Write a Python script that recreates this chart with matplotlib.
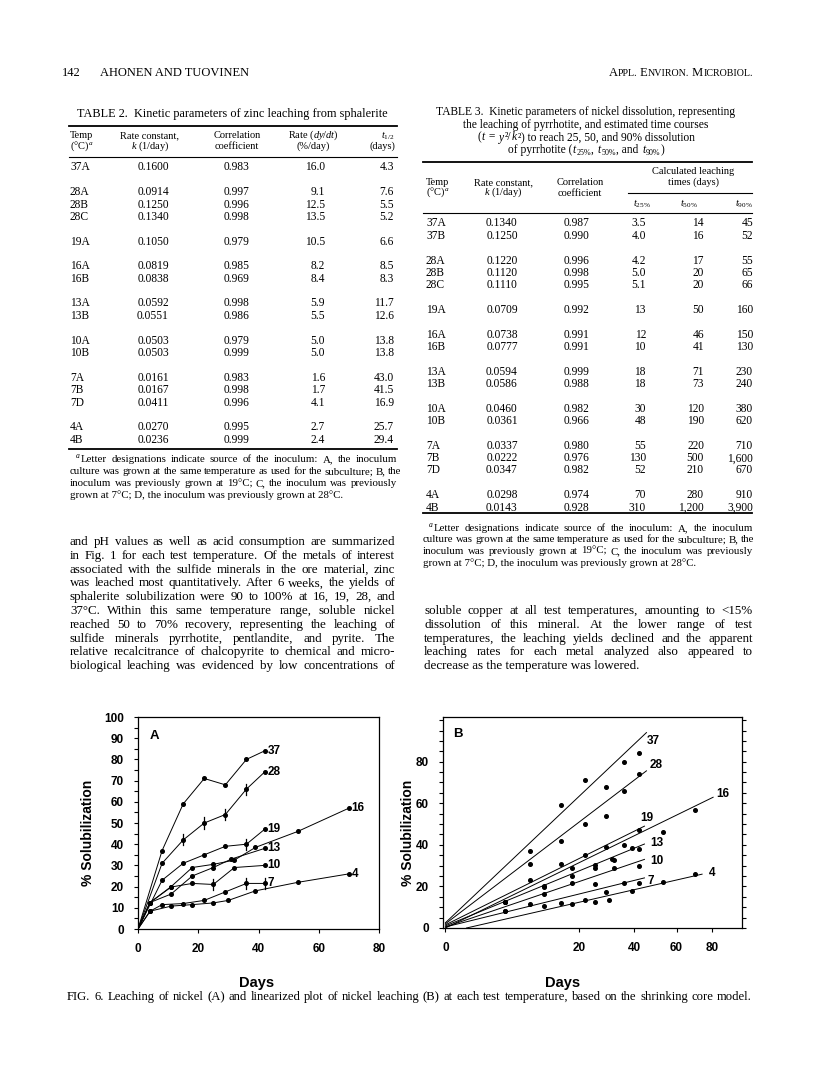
import itertools
import matplotlib
matplotlib.use('Agg')
import matplotlib.pyplot as plt
import numpy as np

# ---- Table 2: zinc leaching from sphalerite ----
t2_temp = ['37A', '28A', '28B', '28C', '19A', '16A', '16B', '13A', '13B',
           '10A', '10B', '7A', '7B', '7D', '4A', '4B']
t2_k = ['0.1600', '0.0914', '0.1250', '0.1340', '0.1050', '0.0819', '0.0838', '0.0592',
        '0.0551', '0.0503', '0.0503', '0.0161', '0.0167', '0.0411', '0.0270', '0.0236']
t2_r = ['0.983', '0.997', '0.996', '0.998', '0.979', '0.985', '0.969', '0.998',
        '0.986', '0.979', '0.999', '0.983', '0.998', '0.996', '0.995', '0.999']
t2_rate = ['16.0', '9.1', '12.5', '13.5', '10.5', '8.2', '8.4', '5.9',
           '5.5', '5.0', '5.0', '1.6', '1.7', '4.1', '2.7', '2.4']
t2_half = ['4.3', '7.6', '5.5', '5.2', '6.6', '8.5', '8.3', '11.7',
           '12.6', '13.8', '13.8', '43.0', '41.5', '16.9', '25.7', '29.4']

# ---- Table 3: nickel dissolution ----
t3_temp = ['37A', '37B', '28A', '28B', '28C', '19A', '16A', '16B', '13A', '13B',
           '10A', '10B', '7A', '7B', '7D', '4A', '4B']
t3_k = ['0.1340', '0.1250', '0.1220', '0.1120', '0.1110', '0.0709', '0.0738', '0.0777',
        '0.0594', '0.0586', '0.0460', '0.0361', '0.0337', '0.0222', '0.0347', '0.0298', '0.0143']
t3_r = ['0.987', '0.990', '0.996', '0.998', '0.995', '0.992', '0.991', '0.991', '0.999',
        '0.988', '0.982', '0.966', '0.980', '0.976', '0.982', '0.974', '0.928']
t3_t25 = ['3.5', '4.0', '4.2', '5.0', '5.1', '13', '12', '10', '18', '18',
          '30', '48', '55', '130', '52', '70', '310']
t3_t50 = ['14', '16', '17', '20', '20', '50', '46', '41', '71', '73',
          '120', '190', '220', '500', '210', '280', '1,200']
t3_t90 = ['45', '52', '55', '65', '66', '160', '150', '130', '230', '240',
          '380', '620', '710', '1,600', '670', '910', '3,900']

# ---- Fig. 6 data (% solubilization of nickel vs days) ----
d37 = [0, 8, 15, 22, 29, 36, 42]
v37 = [0, 37, 59, 71, 68, 80, 84]
d28 = [0, 8, 15, 22, 29, 36, 42]
v28 = [0, 31, 42, 50, 54, 66, 74]
d19 = [0, 8, 15, 22, 29, 36, 42]
v19 = [0, 23, 31, 35, 39, 40, 47]
d16 = [0, 4, 11, 18, 25, 32, 39, 53, 70]
v16 = [0, 12.5, 20, 29, 30.5, 32.5, 38.5, 46, 57]
d13 = [0, 4, 11, 18, 25, 31, 42]
v13 = [0, 12.5, 16.5, 25, 29, 33, 38]
d10 = [0, 4, 11, 18, 25, 32, 42]
v10 = [0, 12.5, 19.8, 21.5, 21, 29, 30]
d7 = [0, 4, 8, 15, 22, 29, 36, 42]
v7 = [0, 8.4, 11.5, 12, 13.5, 17.5, 21.5, 21.5]
d4 = [0, 4, 11, 18, 25, 30, 39, 53, 70]
v4 = [0, 8.4, 10.8, 11.5, 12.3, 13.5, 18, 22, 26]
labels = ['37', '28', '19', '16', '13', '10', '7', '4']

# days with error bars
err28 = [15, 22, 29, 36]
err19 = [36]
err10 = [25]
err7 = [36, 42]

# panel B fitted lines (start day, start %, end day, end %)
fit_t0 = [0, 0, 0, 0, 0, 0, 0, 0.5]
fit_y0 = [2.5, 2, 1.5, 0, 1, 0.5, 0.5, 0]
fit_t1 = [45.4, 45.4, 44.5, 80.5, 44.5, 44.5, 44.5, 74]
fit_y1 = [94, 75.6, 49, 62.9, 40.4, 33, 24.1, 25.9]

W, H = 816, 1076
SERIF = 'Liberation Serif'
SANS = 'Liberation Sans'
plt.rcParams['mathtext.fontset'] = 'custom'
plt.rcParams['mathtext.rm'] = 'Liberation Serif'
plt.rcParams['mathtext.it'] = 'Liberation Serif:italic'

fig = plt.figure(figsize=(W / 100, H / 100), dpi=100)
fig.patch.set_facecolor('white')
renderer = fig.canvas.get_renderer()


def fx(x):
    return x / W


def fy(y):
    return 1 - y / H


def txt(x, y, s, size, ha='left', **kw):
    return fig.text(fx(x), fy(y), s, fontsize=size, family=SERIF, ha=ha,
                    va='baseline', **kw)


def justify(x0, x1, y, line, size, last=False):
    words = line.split()
    if last or len(words) == 1:
        return txt(x0, y, line, size)
    objs = [txt(x0, y, w, size) for w in words]
    widths = [o.get_window_extent(renderer).width for o in objs]
    gap = max((x1 - x0 - sum(widths)) / (len(words) - 1), 2.5)
    x = x0
    for o, wd in zip(objs, widths):
        o.set_x(fx(x))
        x += wd + gap


def runs_center(xc, y, runs, size):
    # runs: (text, italic, subscript); italic runs get a little extra room
    objs, pads = [], []
    for s, it, sub in runs:
        objs.append(txt(0, y + (2 if sub else 0), s, size * (0.7 if sub else 1),
                        style='italic' if it else 'normal'))
        pads.append(1.5 if it else 0)
    widths = [o.get_window_extent(renderer).width + p for o, p in zip(objs, pads)]
    x = xc - sum(widths) / 2
    for o, wd, p in zip(objs, widths, pads):
        o.set_x(fx(x + p / 2))
        x += wd


def fit_size(line, width, size=10):
    t = txt(0, 0, line, size)
    w = t.get_window_extent(renderer).width
    t.remove()
    return size * width / w


def smallcaps_right(xr, y, s, big, small):
    objs = []
    for low, grp in itertools.groupby(s, key=lambda c: c.islower() or c == '.'):
        run = ''.join(grp)
        objs.append(txt(0, y, run.upper(), small if low else big))
    widths = [o.get_window_extent(renderer).width for o in objs]
    x = xr - sum(widths)
    for o, wd in zip(objs, widths):
        o.set_x(fx(x))
        x += wd


def rule(x0, x1, y, lw=0.8):
    fig.add_artist(plt.Line2D([fx(x0), fx(x1)], [fy(y), fy(y)], lw=lw,
                              color='k', transform=fig.transFigure))


def group_rows(temps, y0, step, gap):
    ys, g, prev = [], 0, None
    for i, t in enumerate(temps):
        grp = t.rstrip('ABCD')
        if prev is not None and grp != prev:
            g += 1
        prev = grp
        ys.append(y0 + step * i + gap * g)
    return ys


# ---- running header ----
txt(62, 76, '142', 9)
txt(100, 76, 'AHONEN AND TUOVINEN', 9)
smallcaps_right(753, 76, 'Appl. Environ. Microbiol.', 9, 7.2)

# ---- Table 2 ----
txt(232, 117, 'TABLE 2.  Kinetic parameters of zinc leaching from sphalerite', 8.8, ha='center')
rule(69, 397, 126, 1.3)
hs = 7.5
bs = 8.3
txt(70, 138, 'Temp', hs)
txt(70, 149, '(°C)$^a$', hs)
txt(150, 138, 'Rate constant,', hs, ha='center')
txt(150, 149, '$k$ (1/day)', hs, ha='center')
txt(237, 138, 'Correlation', hs, ha='center')
txt(237, 149, 'coefficient', hs, ha='center')
txt(313, 138, 'Rate ($dy/dt$)', hs, ha='center')
txt(313, 149, '(%/day)', hs, ha='center')
txt(395, 138, '$t_{1/2}$', hs, ha='right')
txt(395, 149, '(days)', hs, ha='right')
rule(69, 397, 157, 0.8)
for t, k, r, rt, h, y in zip(t2_temp, t2_k, t2_r, t2_rate, t2_half,
                             group_rows(t2_temp, 170.5, 12.45, 12.2)):
    txt(70, y, t, bs)
    txt(153, y, k, bs, ha='center')
    txt(237, y, r, bs, ha='center')
    txt(325, y, rt, bs, ha='right')
    txt(394, y, h, bs, ha='right')
rule(69, 397, 449, 1.3)
fn2 = ['Letter designations indicate source of the inoculum: A, the inoculum',
       'culture was grown at the same temperature as used for the subculture; B, the',
       'inoculum was previously grown at 19°C; C, the inoculum was previously',
       'grown at 7°C; D, the inoculum was previously grown at 28°C.']
fs = 7.8
txt(76, 458.5, 'a', 5.5, style='italic')
justify(81, 397, 462.5, fn2[0], fs)
justify(70, 397, 474.5, fn2[1], fs)
justify(70, 397, 486.5, fn2[2], fs)
justify(70, 397, 498.5, fn2[3], fs, last=True)

# ---- Table 3 ----
ts = 8.3
runs_center(586, 115.5, [('TABLE 3.  Kinetic parameters of nickel dissolution, representing', 0, 0)], ts)
runs_center(586, 128, [('the leaching of pyrrhotite, and estimated time courses', 0, 0)], ts)
runs_center(586, 140.5, [('(', 0, 0), ('t', 1, 0), (' = ', 0, 0), ('y', 1, 0), ('²/', 0, 0),
                         ('k', 1, 0), ('²', 0, 0),
                         (') to reach 25, 50, and 90% dissolution', 0, 0)], ts)
runs_center(586, 153, [('of pyrrhotite (', 0, 0), ('t', 1, 0), ('25%', 0, 1), (', ', 0, 0),
                       ('t', 1, 0), ('50%', 0, 1), (', and ', 0, 0), ('t', 1, 0),
                       ('90%', 0, 1), (')', 0, 0)], ts)
rule(423, 752, 162, 1.3)
txt(693, 174, 'Calculated leaching', hs, ha='center')
txt(693, 185, 'times (days)', hs, ha='center')
txt(426, 185, 'Temp', hs)
txt(426, 195, '(°C)$^a$', hs)
txt(503, 185, 'Rate constant,', hs, ha='center')
txt(503, 195, '$k$ (1/day)', hs, ha='center')
txt(580, 185, 'Correlation', hs, ha='center')
txt(580, 196, 'coefficient', hs, ha='center')
rule(628, 752, 193, 0.8)
txt(642, 207, '$t_{25\\%}$', hs, ha='center')
txt(689, 207, '$t_{50\\%}$', hs, ha='center')
txt(744, 207, '$t_{90\\%}$', hs, ha='center')
rule(423, 752, 213, 0.8)
for t, k, r, a, b, c, y in zip(t3_temp, t3_k, t3_r, t3_t25, t3_t50, t3_t90,
                                group_rows(t3_temp, 226.5, 12.2, 12.7)):
    txt(426, y, t, bs)
    txt(502, y, k, bs, ha='center')
    txt(577, y, r, bs, ha='center')
    txt(646, y, a, bs, ha='right')
    txt(704, y, b, bs, ha='right')
    txt(753, y, c, bs, ha='right')
rule(423, 752, 513, 1.3)
txt(429, 527, 'a', 5.5, style='italic')
justify(434, 753, 531, fn2[0], fs)
justify(423, 753, 542.5, fn2[1], fs)
justify(423, 753, 554, fn2[2], fs)
justify(423, 753, 565.5, fn2[3], fs, last=True)

# ---- body text ----
left_text = ['and pH values as well as acid consumption are summarized',
             'in Fig. 1 for each test temperature. Of the metals of interest',
             'associated with the sulfide minerals in the ore material, zinc',
             'was leached most quantitatively. After 6 weeks, the yields of',
             'sphalerite solubilization were 90 to 100% at 16, 19, 28, and',
             '37°C. Within this same temperature range, soluble nickel',
             'reached 50 to 70% recovery, representing the leaching of',
             'sulfide minerals pyrrhotite, pentlandite, and pyrite. The',
             'relative recalcitrance of chalcopyrite to chemical and micro-',
             'biological leaching was evidenced by low concentrations of']
right_text = ['soluble copper at all test temperatures, amounting to <15%',
              'dissolution of this mineral. At the lower range of test',
              'temperatures, the leaching yields declined and the apparent',
              'leaching rates for each metal analyzed also appeared to',
              'decrease as the temperature was lowered.']
for i, line in enumerate(left_text):
    justify(70, 395, 545 + 13.8 * i, line, 9.4)
for i, line in enumerate(right_text):
    justify(424, 753, 614 + 13.8 * i, line, 9.4, last=(i == len(right_text) - 1))

# ---- Figure 6 ----
series = [(d37, v37), (d28, v28), (d19, v19), (d16, v16),
          (d13, v13), (d10, v10), (d7, v7), (d4, v4)]
errs = {'28': err28, '19': err19, '10': err10, '7': err7}


def style_ticks(ax):
    ax.tick_params(which='both', direction='out', length=3, width=0.8,
                   labelsize=8.5, pad=7)
    for lbl in ax.get_xticklabels() + ax.get_yticklabels():
        lbl.set_fontweight('bold')
        lbl.set_family(SANS)
    for s in ax.spines.values():
        s.set_linewidth(0.9)


axA = fig.add_axes([fx(138), fy(929), (379 - 138) / W, (929 - 717) / H])
for (d, v), lab in zip(series, labels):
    axA.plot(d, v, '-', color='k', lw=0.7, marker='o', ms=2.6,
             markevery=list(range(1, len(d))))
    for e in errs.get(lab, []):
        ye = v[d.index(e)]
        axA.plot([e, e], [ye - 2.6, ye + 2.6], color='k', lw=0.9)
    axA.annotate(lab, (d[-1], v[-1]), xytext=(2, 0), textcoords='offset points',
                 va='center', ha='left', fontsize=8.5, fontweight='bold', family=SANS)
axA.set_xlim(0, 80)
axA.set_ylim(0, 100)
axA.set_xticks([0, 20, 40, 60, 80])
axA.set_yticks(np.arange(0, 101, 10))
axA.set_yticks(np.arange(5, 100, 10), minor=True)
style_ticks(axA)
axA.text(0.07, 0.91, 'A', transform=axA.transAxes, fontsize=9.5, fontweight='bold',
         family=SANS, va='center', ha='center')


def fwd(x):
    return np.sign(x) * np.sqrt(np.abs(x))


def inv(y):
    return np.sign(y) * y ** 2


axB = fig.add_axes([fx(443), fy(928), (742 - 443) / W, (928 - 717) / H])
axB.set_xscale('function', functions=(fwd, inv))
label_off = [(0, -6), (2, 4), (-3, 5.5), (2, 2), (4, 1), (4, -1.5), (2, -2), (5, 0.5)]
for (d, v), lab, ta, ya, tb, yb, off in zip(series, labels, fit_t0, fit_y0,
                                          fit_t1, fit_y1, label_off):
    axB.plot(d[1:], v[1:], 'o', color='k', ms=2.6)
    axB.plot([ta, tb], [ya, yb], '-', color='k', lw=0.7)
    axB.annotate(lab, (tb, yb), xytext=off, textcoords='offset points',
                 va='center', ha='left', fontsize=8.5, fontweight='bold', family=SANS)
axB.set_xlim(-0.0064, 98.8)
axB.set_ylim(0, 101.5)
axB.set_xticks([0, 20, 40, 60, 80])
axB.set_yticks([0, 20, 40, 60, 80])
axB.set_yticks(np.arange(5, 101, 5), minor=True)
axB.xaxis.set_minor_locator(matplotlib.ticker.NullLocator())
axB.tick_params(which='both', right=True)
style_ticks(axB)
axB.text(0.05, 0.92, 'B', transform=axB.transAxes, fontsize=9.5, fontweight='bold',
         family=SANS, va='center', ha='center')

for xc in (88, 408):
    fig.text(fx(xc), fy(833), '% Solubilization', rotation=90, fontsize=10,
             fontweight='bold', family=SANS, ha='center', va='center')
fig.text(fx(257), fy(983), 'Days', fontsize=10.5, fontweight='bold', family=SANS,
         ha='center', va='center')
fig.text(fx(563), fy(983), 'Days', fontsize=10.5, fontweight='bold', family=SANS,
         ha='center', va='center')

cap = ('FIG. 6.  Leaching of nickel (A) and linearized plot of nickel leaching (B) '
       'at each test temperature, based on the shrinking core model.')
justify(67, 752, 1000, cap, fit_size(cap, 675))

fig.savefig('out.png', dpi=100)
